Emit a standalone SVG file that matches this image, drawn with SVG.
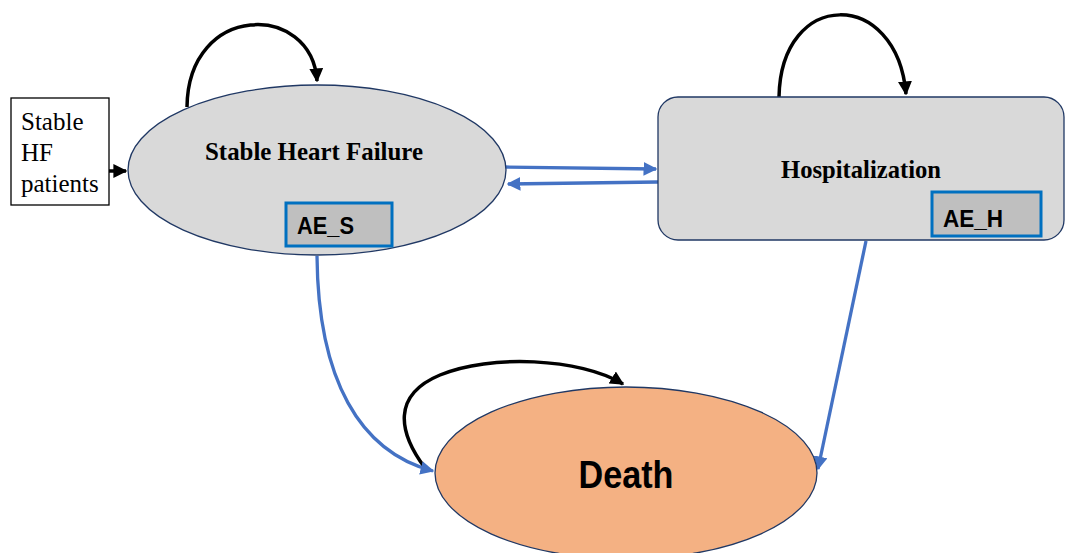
<svg xmlns="http://www.w3.org/2000/svg" width="1066" height="553" viewBox="0 0 1066 553">
<defs>
<style>
.state{fill:#d9d9d9;stroke:#203864;stroke-width:1.3}
.death{fill:#f4b183;stroke:#203864;stroke-width:1.3}
.ae{fill:#bfbfbf;stroke:#0070c0;stroke-width:3}
.serif{font-family:"Liberation Serif","Times New Roman",serif;fill:#000}
.sb{font-family:"Liberation Sans",Arial,sans-serif;font-weight:bold;fill:#000}
.blk{fill:none;stroke:#000;stroke-width:3.5}
.blu{fill:none;stroke:#4472c4;stroke-width:3.3}
</style>
<marker id="ab" viewBox="0 0 10 10" refX="9" refY="5" markerWidth="4" markerHeight="4" orient="auto" markerUnits="strokeWidth">
<path d="M0,0 L10,5 L0,10 z" fill="#000"/>
</marker>
<marker id="au" viewBox="0 0 10 10" refX="9" refY="5" markerWidth="4.2" markerHeight="4.2" orient="auto" markerUnits="strokeWidth">
<path d="M0,0 L10,5 L0,10 z" fill="#4472c4"/>
</marker>
</defs>
<g id="connectors">
<path class="blk" d="M109,171 L126,171" marker-end="url(#ab)"/>
<path class="blk" d="M187,107 C188,2 312,2 317,81" marker-end="url(#ab)"/>
<path class="blk" d="M779,97 C781,-12 897,-12 906,94" marker-end="url(#ab)"/>
<path class="blk" d="M425,468 C398,432 392,395 440,375 C490,354 580,358 623,384" marker-end="url(#ab)"/>
<path class="blu" d="M505,167 L656,169" marker-end="url(#au)"/>
<path class="blu" d="M658,182 L508,184" marker-end="url(#au)"/>
<path class="blu" d="M317,256 C318,380 360,452 433,471" marker-end="url(#au)"/>
<path class="blu" d="M866,241 L818,469" marker-end="url(#au)"/>
</g>
<g id="start">
<rect x="11" y="98" width="98" height="107" fill="#fff" stroke="#000" stroke-width="1.3"/>
<text class="serif" font-size="25" x="21" y="130">Stable</text>
<text class="serif" font-size="25" x="21" y="161">HF</text>
<text class="serif" font-size="25" x="21" y="192">patients</text>
</g>
<g id="stable">
<ellipse class="state" cx="317" cy="170" rx="189" ry="85"/>
<text class="serif" font-size="26" font-weight="bold" x="314" y="160" text-anchor="middle" textLength="218" lengthAdjust="spacingAndGlyphs">Stable Heart Failure</text>
<rect class="ae" x="286" y="203" width="106" height="43"/>
<text class="sb" font-size="24" x="297" y="234" textLength="57" lengthAdjust="spacingAndGlyphs">AE_S</text>
</g>
<g id="hosp">
<rect class="state" x="658" y="97" width="406" height="143" rx="20"/>
<text class="serif" font-size="26" font-weight="bold" x="861" y="178" text-anchor="middle" textLength="160" lengthAdjust="spacingAndGlyphs">Hospitalization</text>
<rect class="ae" x="932" y="192" width="109" height="44"/>
<text class="sb" font-size="24" x="943" y="227" textLength="60" lengthAdjust="spacingAndGlyphs">AE_H</text>
</g>
<g id="death">
<ellipse class="death" cx="626" cy="473" rx="191" ry="86"/>
<text class="sb" font-size="38" x="626" y="488" text-anchor="middle" textLength="95" lengthAdjust="spacingAndGlyphs">Death</text>
</g>
</svg>
